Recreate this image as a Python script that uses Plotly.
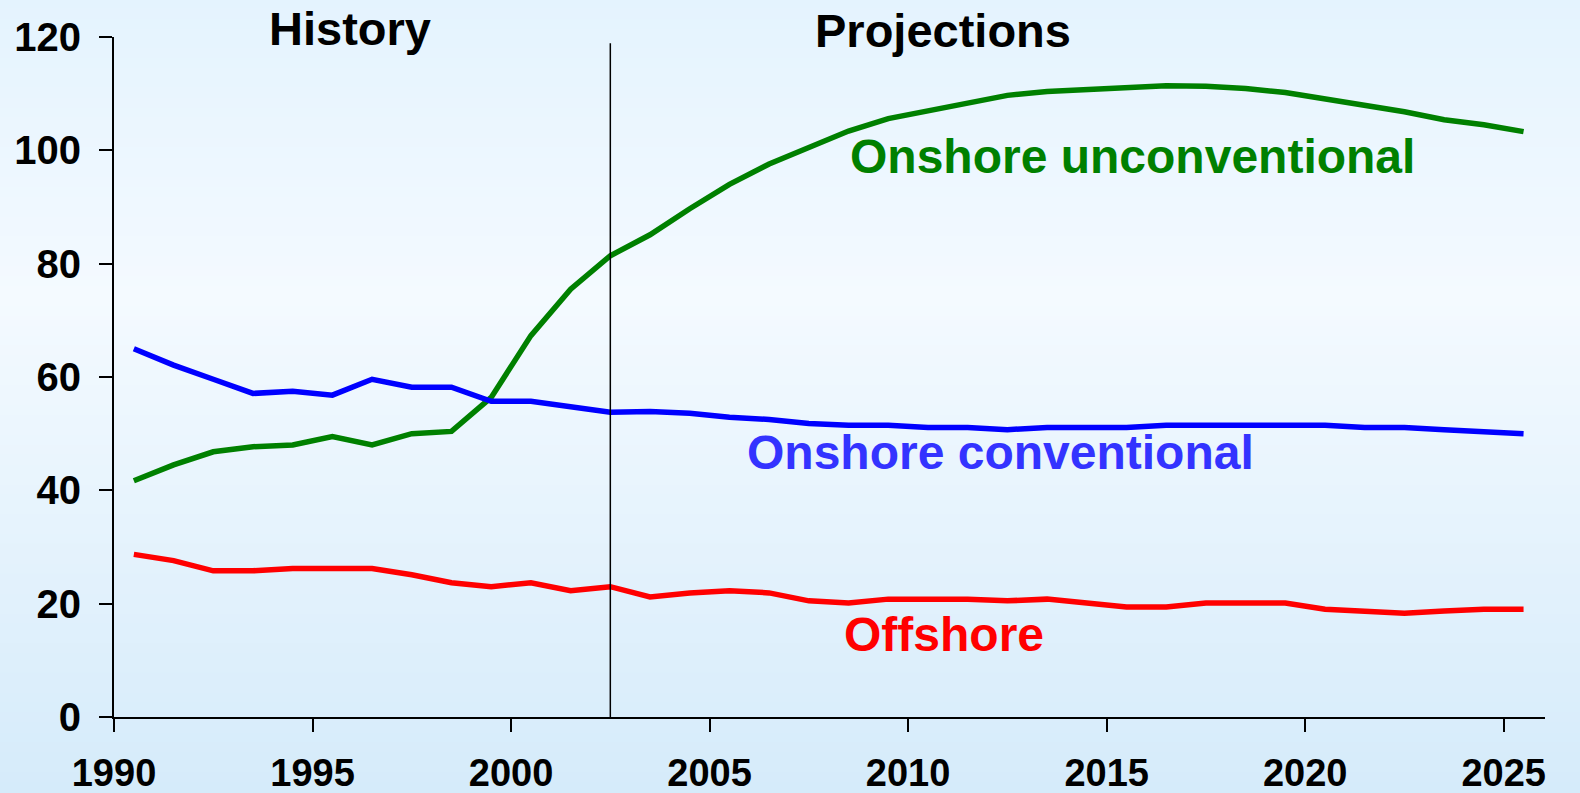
import plotly.graph_objects as go

years = list(range(1990, 2026))

onshore_unconventional = [41.7, 44.5, 46.8, 47.7, 48.0, 49.5, 48.0, 50.0, 50.4, 56.4,
                          67.3, 75.5, 81.4, 85.1, 89.7, 94.0, 97.6, 100.6, 103.4, 105.6,
                          107.0, 108.4, 109.7, 110.4, 110.7, 111.1, 111.4, 111.3, 110.9, 110.2,
                          109.1, 107.9, 106.8, 105.4, 104.5, 103.3]

onshore_conventional = [65.0, 62.1, 59.6, 57.1, 57.5, 56.8, 59.6, 58.2, 58.2, 55.7,
                        55.7, 54.7, 53.8, 53.9, 53.6, 52.9, 52.5, 51.8, 51.5, 51.5,
                        51.1, 51.1, 50.7, 51.1, 51.1, 51.1, 51.5, 51.5, 51.5, 51.5,
                        51.5, 51.1, 51.1, 50.7, 50.4, 50.0]

offshore = [28.7, 27.6, 25.8, 25.8, 26.2, 26.2, 26.2, 25.1, 23.7, 23.0,
            23.7, 22.3, 23.0, 21.2, 21.9, 22.3, 21.9, 20.5, 20.1, 20.8,
            20.8, 20.8, 20.5, 20.8, 20.1, 19.4, 19.4, 20.1, 20.1, 20.1,
            19.0, 18.7, 18.3, 18.7, 19.0, 19.0]

x_ticks = [1990, 1995, 2000, 2005, 2010, 2015, 2020, 2025]
y_ticks = [0, 20, 40, 60, 80, 100, 120]

# points sit in the middle of each year
x_mid = [y + 0.5 for y in years]

FONT = "Liberation Sans, Arial, sans-serif"
W, H = 1580, 793
L, R, T, B = 114, 35, 37, 76

fig = go.Figure()

series = [
    (onshore_unconventional, "#008000", "Onshore unconventional"),
    (onshore_conventional, "#0000ff", "Onshore conventional"),
    (offshore, "#ff0000", "Offshore"),
]
for vals, col, name in series:
    fig.add_trace(go.Scatter(x=x_mid, y=vals, mode="lines", name=name,
                             line=dict(color=col, width=5.5), cliponaxis=False))

# background gradient as thin strips (paper coordinates cover whole figure)
plot_h = H - T - B
plot_w = W - L - R


def lerp(c1, c2, t):
    return tuple(int(round(a + (b - a) * t)) for a, b in zip(c1, c2))


stops = [(0, (228, 243, 254)), (300, (244, 250, 255)), (793, (213, 235, 250))]
shapes = []
n = 80
for i in range(n):
    py0 = H * i / n
    py1 = H * (i + 1) / n
    pm = (py0 + py1) / 2
    for (a, ca), (b, cb) in zip(stops[:-1], stops[1:]):
        if a <= pm <= b:
            c = lerp(ca, cb, (pm - a) / (b - a))
            break
    shapes.append(dict(type="rect", xref="paper", yref="paper",
                       x0=-L / plot_w - 0.01, x1=1 + R / plot_w + 0.01,
                       y0=(H - B - py1) / plot_h - 0.002, y1=(H - B - py0) / plot_h + 0.002,
                       fillcolor="rgb(%d,%d,%d)" % c, line=dict(width=0), layer="below"))

# history / projections divider
shapes.append(dict(type="line", xref="x", yref="y", x0=2002.5, x1=2002.5, y0=0, y1=118.9,
                   line=dict(color="black", width=1.5)))


def py_to_paper(py):
    return (H - B - py) / plot_h


def label(text, x, y, color, yref="y", size=48):
    return dict(x=x, y=y, xref="x", yref=yref, text=text, showarrow=False,
                xanchor="center", yanchor="middle",
                font=dict(family=FONT, size=size, color=color, weight="bold"))


annotations = [
    label("History", 1995.94, py_to_paper(28), "black", yref="paper", size=47),
    label("Projections", 2010.88, py_to_paper(30), "black", yref="paper", size=47),
    label("Onshore unconventional", 2015.64, 99.0, "#008000"),
    label("Onshore conventional", 2012.32, 46.6, "#3333ff"),
    label("Offshore", 2010.9, 14.5, "#ff0000"),
]

fig.update_layout(
    width=W, height=H,
    margin=dict(l=L, r=R, t=T, b=B),
    paper_bgcolor="#eaf6ff",
    plot_bgcolor="rgba(0,0,0,0)",
    showlegend=False,
    shapes=shapes,
    annotations=annotations,
    font=dict(family=FONT, color="black"),
    xaxis=dict(range=[1990, 2026.04], tickvals=x_ticks, ticks="outside", ticklen=13,
               tickwidth=2, tickcolor="black", showline=True, linecolor="black", linewidth=2,
               showgrid=False, zeroline=False, automargin=False,
               tickfont=dict(size=38, family=FONT, weight="bold"), ticklabelstandoff=8),
    yaxis=dict(range=[0, 120], tickvals=y_ticks, ticks="outside", ticklen=13,
               tickwidth=2, tickcolor="black", showline=True, linecolor="black", linewidth=2,
               showgrid=False, zeroline=False, automargin=False,
               tickfont=dict(size=40, family=FONT, weight="bold"), ticklabelstandoff=10),
)

fig.write_html("out.html", config={"displayModeBar": False},
               post_script="document.body.style.margin='0';")
